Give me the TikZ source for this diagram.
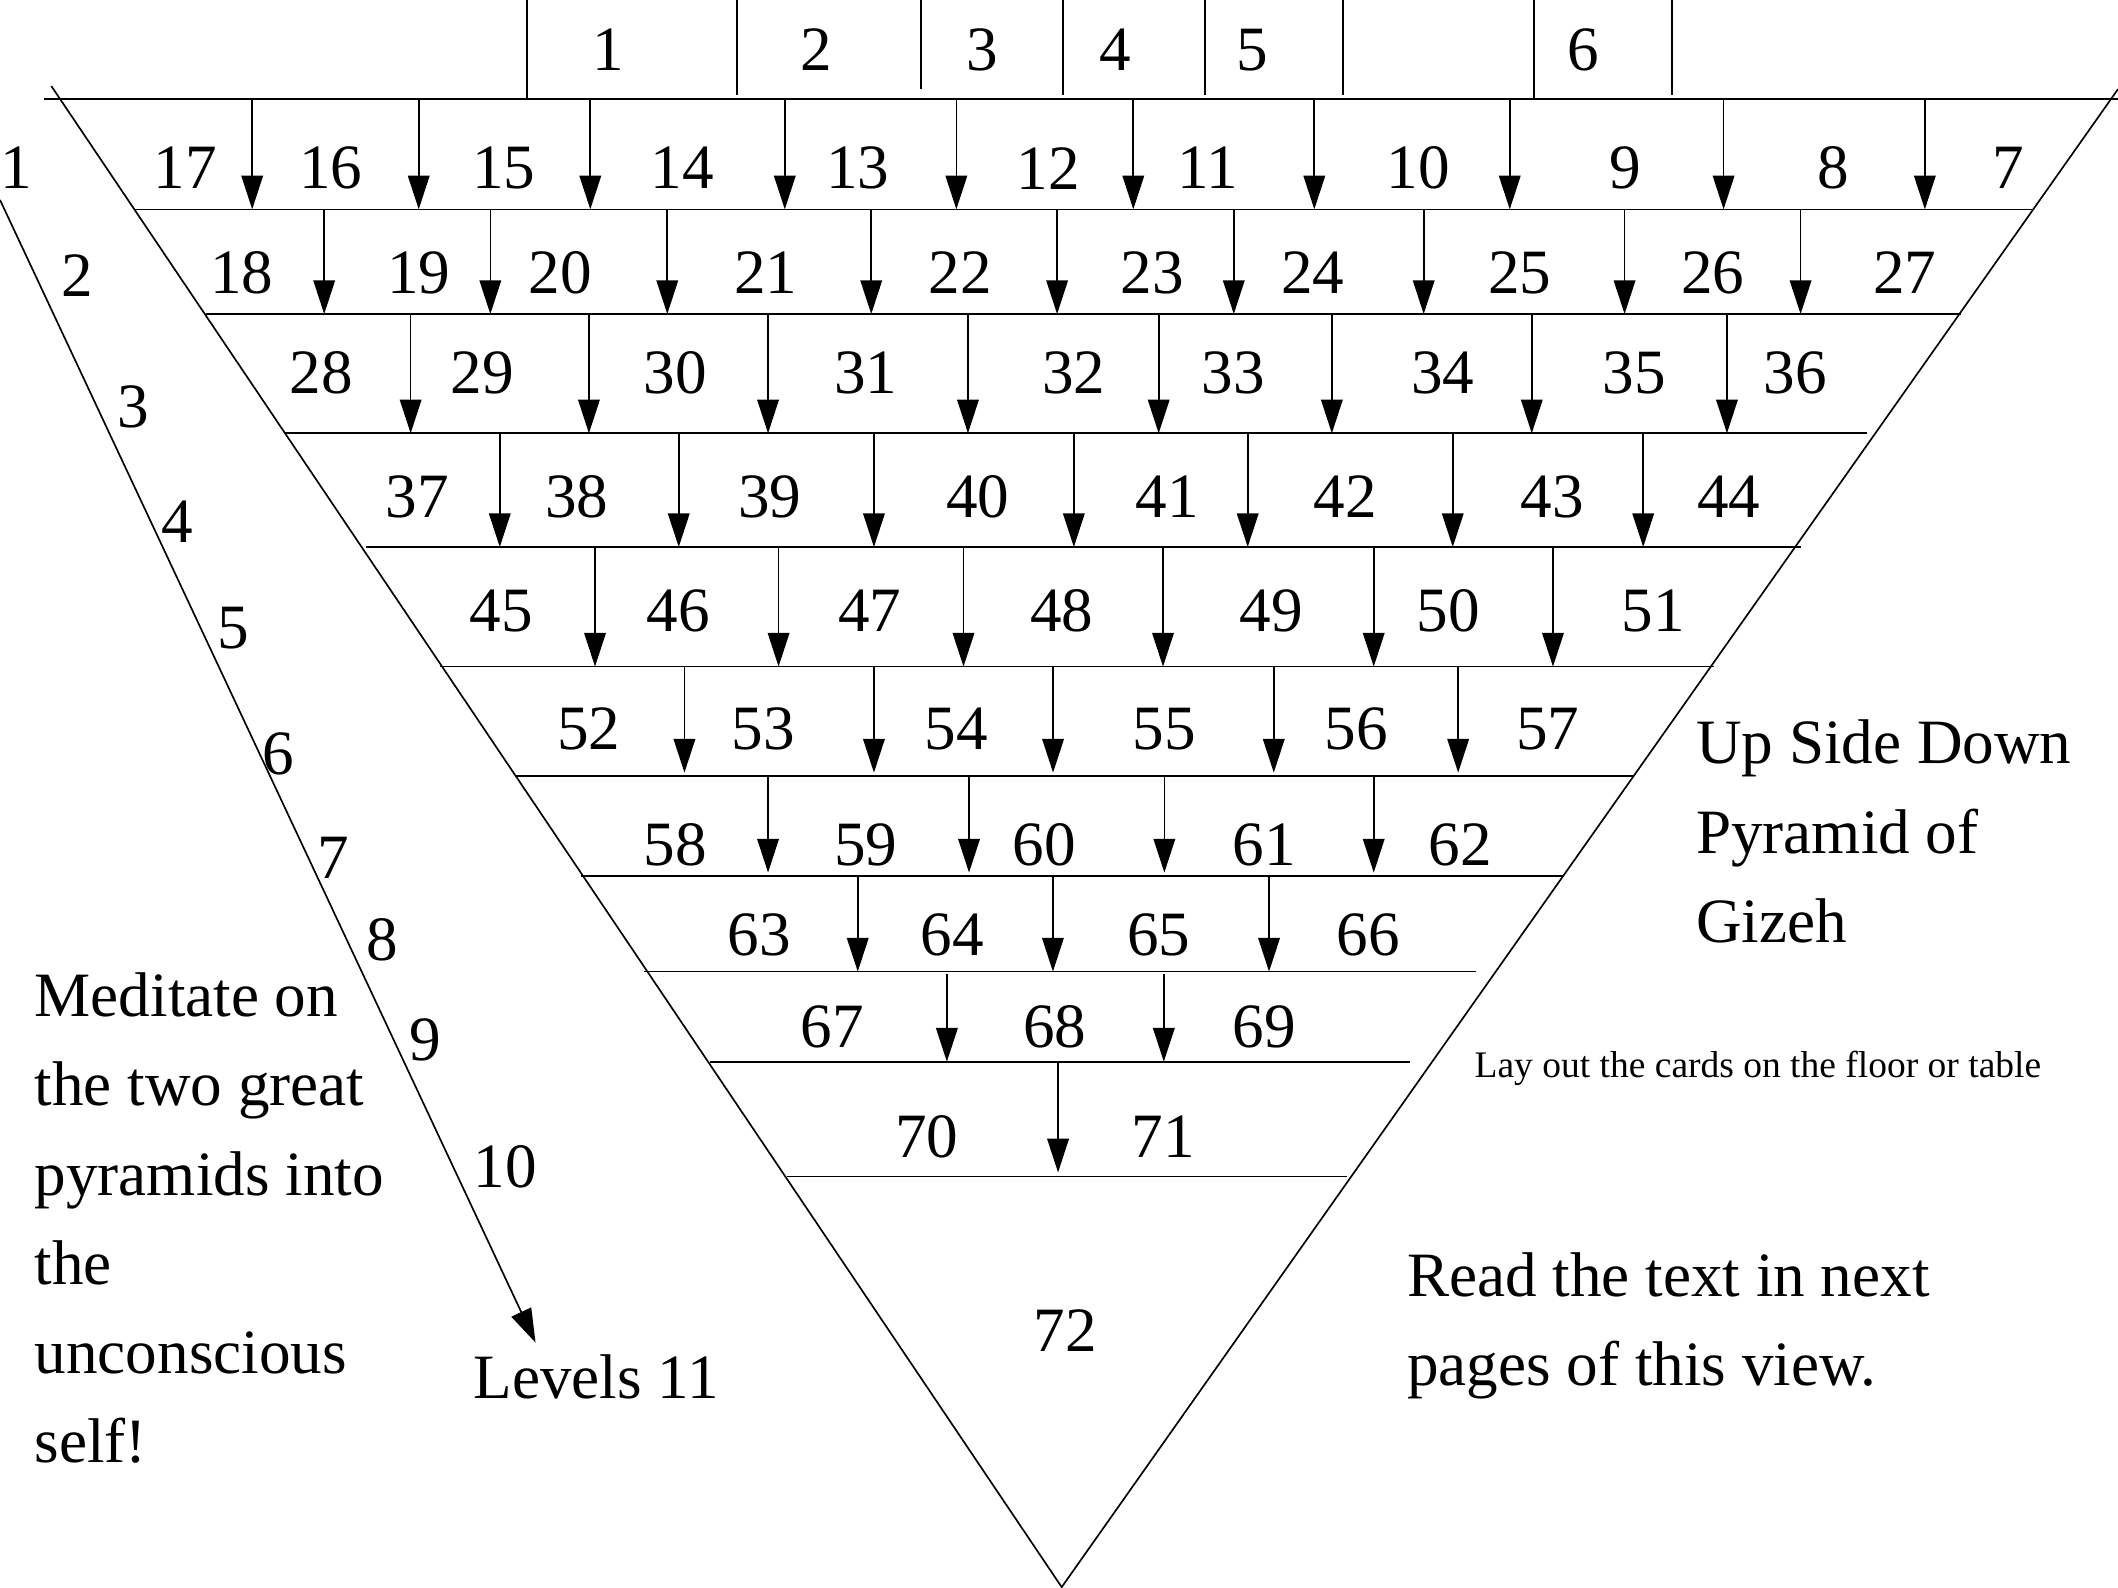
\documentclass[tikz,border=0pt]{standalone}
\usepackage{fontspec}
\setmainfont{Liberation Serif}
\usetikzlibrary{arrows.meta}
\tikzset{
  num/.style={inner sep=0pt, font=\fontsize{13.3}{18.8}\selectfont},
  txt/.style={num, anchor=base west, align=left},
  small/.style={inner sep=0pt, anchor=base west, font=\fontsize{7.9}{9.5}\selectfont},
  thin/.style={line width=.35pt},
  ar/.style={thin, -{Triangle[length=2.5mm,width=1.6mm]}},
}
\begin{document}
\begin{tikzpicture}[x=0.1mm,y=-0.1mm]
  \useasboundingbox (0,0) rectangle (1568,1175);
  % pyramid outline and top line
  \coordinate (apex) at (786,1175);
  \coordinate (tl) at (38,63.7);
  \coordinate (tr) at (1568,66);
  \draw[thin] (tl) -- (apex) -- (tr);
  \draw[line width=.5pt] (32.5,73.5) -- (1568,73.5);
  % level lines
  \foreach \y/\xl/\xr in {155/100/1504, 232.5/152.6/1451.5, 320.8/211/1382, 405/271/1333,
      493.5/325.7/1269, 574.5/381.8/1210, 648.5/430/1157, 719.3/477/1093, 786/525.6/1044, 871/582.3/997}
    \draw[thin] (\xl,\y) -- (\xr,\y);
  % top row
  \foreach \x/\e in {390/73.5, 545.6/70, 682/66, 787/70, 892/70, 994/70, 1135.7/73.5, 1238/70}
    \draw[thin] (\x,0) -- (\x,\e);
  \foreach \n/\x in {1/450, 2/604, 3/727, 4/826, 5/927, 6/1172}
    \node[num] (top\n) at (\x,37) {\n};
  % cards, level by level
  \foreach \n/\x in {17/137, 16/245, 15/373, 14/505, 13/635, 12/776, 11/894, 10/1050, 9/1203, 8/1357, 7/1487}
    \node[num] (c\n) at (\x,124.5) {\n};
  \foreach \x in {186.7, 310, 437, 581, 708, 839, 973, 1117.7, 1276, 1425}
    \draw[ar] (\x,73.5) -- (\x,155);
  \foreach \n/\x in {18/179, 19/310, 20/415, 21/567, 22/711, 23/853, 24/972, 25/1125, 26/1268, 27/1410}
    \node[num] (c\n) at (\x,202) {\n};
  \foreach \x in {240, 363, 494, 645, 782.6, 913.4, 1054, 1202.7, 1333}
    \draw[ar] (\x,155) -- (\x,232.5);
  \foreach \n/\x in {28/238, 29/357, 30/500, 31/641, 32/795, 33/913, 34/1068, 35/1210, 36/1329}
    \node[num] (c\n) at (\x,276) {\n};
  \foreach \x in {304, 436, 568.6, 716.6, 857.8, 986, 1134, 1278.5}
    \draw[ar] (\x,232.5) -- (\x,320.8);
  \foreach \n/\x in {37/309, 38/427, 39/570, 40/724, 41/864, 42/996, 43/1149, 44/1280}
    \node[num] (c\n) at (\x,368) {\n};
  \foreach \x in {370, 502.5, 647, 795, 923.7, 1075.5, 1216.5}
    \draw[ar] (\x,320.8) -- (\x,405);
  \foreach \n/\x in {45/371, 46/502, 47/644, 48/786, 49/941, 50/1072, 51/1224}
    \node[num] (c\n) at (\x,452) {\n};
  \foreach \x in {440.5, 576.4, 713.3, 861, 1017, 1149.7}
    \draw[ar] (\x,405) -- (\x,493.5);
  \foreach \n/\x in {52/436, 53/565, 54/708, 55/862, 56/1004, 57/1146}
    \node[num] (c\n) at (\x,540) {\n};
  \foreach \x in {506.7, 647, 779.6, 943, 1079.5}
    \draw[ar] (\x,493.5) -- (\x,572);
  \foreach \n/\x in {58/500, 59/641, 60/773, 61/936, 62/1081}
    \node[num] (c\n) at (\x,625.5) {\n};
  \foreach \x in {568.6, 717.4, 862, 1017}
    \draw[ar] (\x,574.5) -- (\x,646);
  \foreach \n/\x in {63/562, 64/705, 65/858, 66/1013}
    \node[num] (c\n) at (\x,692) {\n};
  \foreach \x in {635, 779.5, 939.5}
    \draw[ar] (\x,648.5) -- (\x,719.3);
  \foreach \n/\x in {67/616, 68/781, 69/936}
    \node[num] (c\n) at (\x,760) {\n};
  \foreach \x in {701, 861.6}
    \draw[ar] (\x,721) -- (\x,786);
  \foreach \n/\x in {70/686, 71/861}
    \node[num] (c\n) at (\x,841.5) {\n};
  \draw[ar] (783.3,787) -- (783.3,868);
  \node[num] (c72) at (788.5,985) {72};
  % levels
  \coordinate (lvs) at (0,148);
  \coordinate (lve) at (396.5,994);
  \draw[ar] (lvs) -- (lve);
  \foreach \n/\x/\y in {1/12/124, 2/57/204, 3/99/301, 4/131/386, 5/173/465,
      6/206/558, 7/247/635, 8/283/696, 9/315/770, 10/374/864}
    \node[num] (lv\n) at (\x,\y) {\n};
  \node[txt] (lvl) at (350,1035) {Levels 11};
  % notes (base = last line)
  \node[txt] (medit) at (25,1083) {Meditate on\\the two great\\pyramids into\\the\\unconscious\\self!};
  \node[txt] (title) at (1255,697.7) {Up Side Down\\Pyramid of\\Gizeh};
  \node[small] (layout) at (1091,798) {Lay out the cards on the floor or table};
  \node[txt] (read) at (1041,1025.8) {Read the text in next\\pages of this view.};
\end{tikzpicture}
\end{document}
